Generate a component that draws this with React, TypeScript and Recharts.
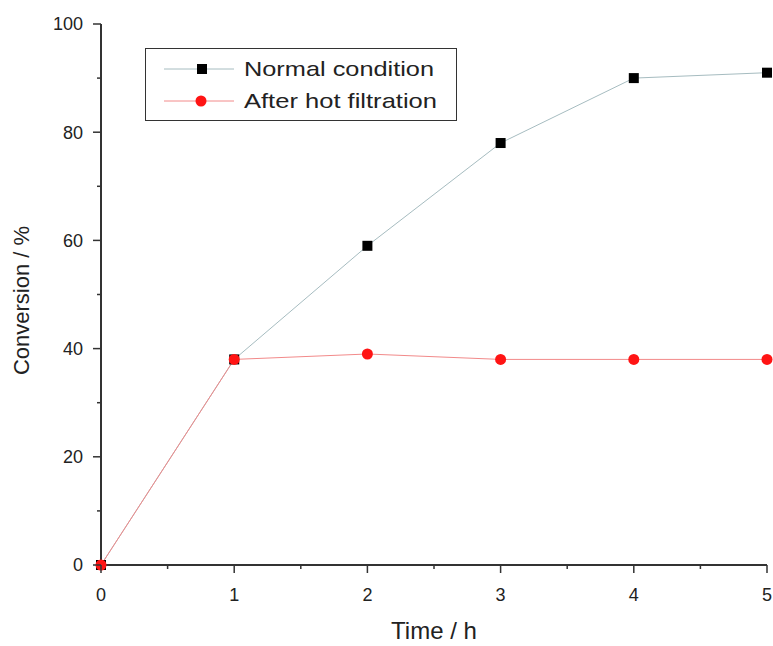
import { LineChart, Line, XAxis, YAxis, Legend, Label } from 'recharts';

// time points (h) and conversions (%)
const times = [0, 1, 2, 3, 4, 5];
const normalCondition = [0, 38, 59, 78, 90, 91];
const afterHotFiltration = [0, 38, 39, 38, 38, 38];

const xTicks = [0, 0.5, 1, 1.5, 2, 2.5, 3, 3.5, 4, 4.5, 5];
const yTicks = [0, 10, 20, 30, 40, 50, 60, 70, 80, 90, 100];

const data = times.map((t, i) => ({
  t,
  normal: normalCondition[i],
  filtered: afterHotFiltration[i],
}));

const FONT = 'Arial, "Liberation Sans", sans-serif';
const AXIS = '#333';
const NORMAL_LINE = '#a6bcc0';
const RED_LINE = '#f28a8a';
const RED_DOT = '#ff1414';

function XTick({ x, y, payload }: any) {
  const v = payload.value as number;
  const major = Number.isInteger(v);
  const axisY = y - 7;
  return (
    <g>
      <line x1={x} x2={x} y1={axisY} y2={axisY + (major ? 8 : 4)} stroke={AXIS} strokeWidth={1.5} />
      {major && (
        <text x={x} y={axisY + 36} textAnchor="middle" fontSize={18} fontFamily={FONT} fill="#222">
          {v}
        </text>
      )}
    </g>
  );
}

function YTick({ x, y, payload }: any) {
  const v = payload.value as number;
  const major = v % 20 === 0;
  const axisX = x + 7;
  return (
    <g>
      <line x1={axisX} x2={axisX - (major ? 8 : 4)} y1={y} y2={y} stroke={AXIS} strokeWidth={1.5} />
      {major && (
        <text x={axisX - 18} y={y} dy="0.36em" textAnchor="end" fontSize={18} fontFamily={FONT} fill="#222">
          {v}
        </text>
      )}
    </g>
  );
}

function SquareDot({ cx, cy, index }: any) {
  return <rect key={`sq-${index}`} x={cx - 5} y={cy - 5} width={10} height={10} fill="#000" />;
}

function LegendBox() {
  const rows = [
    { label: 'Normal condition', line: NORMAL_LINE, square: true, width: 190 },
    { label: 'After hot filtration', line: RED_LINE, square: false, width: 193 },
  ];
  return (
    <div style={{ width: 312, height: 73, border: `1.5px solid ${AXIS}`, boxSizing: 'border-box', background: '#fff' }}>
      <svg width={309} height={70} style={{ display: 'block' }}>
        {rows.map((r, i) => {
          const cy = 20 + i * 32;
          return (
            <g key={r.label}>
              <line x1={18} x2={88} y1={cy} y2={cy} stroke={r.line} strokeWidth={1} />
              {r.square ? (
                <rect x={51} y={cy - 5} width={10} height={10} fill="#000" />
              ) : (
                <circle cx={55} cy={cy} r={5.5} fill={RED_DOT} />
              )}
              <text
                x={98}
                y={cy + 7}
                fontSize={21}
                fontFamily={FONT}
                fill="#222"
                textLength={r.width}
                lengthAdjust="spacingAndGlyphs"
              >
                {r.label}
              </text>
            </g>
          );
        })}
      </svg>
    </div>
  );
}

export default function App() {
  return (
    <div style={{ position: 'absolute', left: 0, top: 0, background: '#fff' }}>
      <LineChart width={773} height={646} data={data} margin={{ top: 24, right: 6, bottom: 0, left: 0 }}>
        <XAxis
          dataKey="t"
          type="number"
          domain={[0, 5]}
          ticks={xTicks}
          interval={0}
          height={81}
          tickSize={7}
          tickMargin={0}
          tickLine={false}
          tick={<XTick />}
          axisLine={{ stroke: AXIS, strokeWidth: 2 }}
        >
          <Label
            content={({ viewBox }: any) => (
              <text
                x={viewBox.x + viewBox.width / 2}
                y={viewBox.y + 74}
                textAnchor="middle"
                fontSize={24}
                fontFamily={FONT}
                fill="#222"
              >
                Time / h
              </text>
            )}
          />
        </XAxis>
        <YAxis
          type="number"
          domain={[0, 100]}
          ticks={yTicks}
          interval={0}
          width={101}
          tickSize={7}
          tickMargin={0}
          tickLine={false}
          tick={<YTick />}
          axisLine={{ stroke: AXIS, strokeWidth: 2 }}
        >
          <Label
            content={({ viewBox }: any) => {
              const cx = 21;
              const cy = viewBox.y + viewBox.height / 2 + 6;
              return (
                <text
                  x={cx}
                  y={cy}
                  transform={`rotate(-90 ${cx} ${cy})`}
                  textAnchor="middle"
                  dy="0.36em"
                  fontSize={22}
                  fontFamily={FONT}
                  fill="#222"
                >
                  Conversion / %
                </text>
              );
            }}
          />
        </YAxis>
        <Legend
          layout="horizontal"
          verticalAlign="middle"
          align="center"
          content={() => <LegendBox />}
          wrapperStyle={{ left: 145, top: 48, width: 312, height: 73 }}
        />
        <Line
          type="linear"
          dataKey="normal"
          name="Normal condition"
          stroke={NORMAL_LINE}
          strokeWidth={1}
          dot={<SquareDot />}
          activeDot={false}
          isAnimationActive={false}
        />
        <Line
          type="linear"
          dataKey="filtered"
          name="After hot filtration"
          stroke={RED_LINE}
          strokeWidth={1}
          dot={{ r: 5.5, fill: RED_DOT, stroke: 'none' }}
          activeDot={false}
          isAnimationActive={false}
        />
      </LineChart>
    </div>
  );
}
